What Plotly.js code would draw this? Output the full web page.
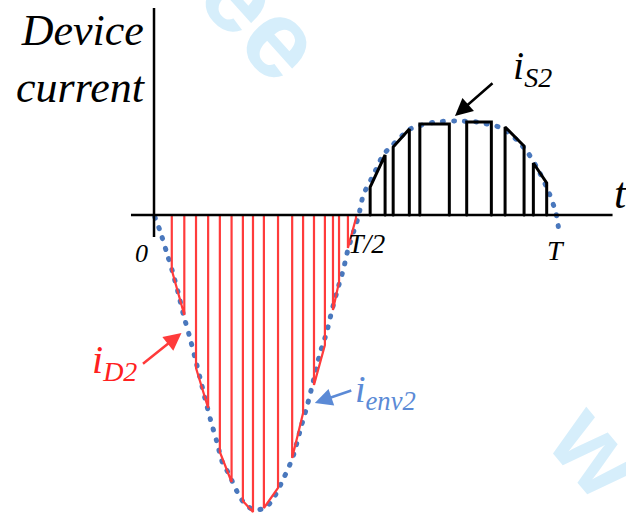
<!DOCTYPE html>
<html>
<head>
<meta charset="utf-8">
<script src="https://cdn.plot.ly/plotly-3.0.1.min.js"></script>
<style>
  html, body { margin: 0; padding: 0; background: #fff; }
  #chart { width: 626px; height: 515px; }
  /* round caps turn the dash pattern into round dots */
  .js-line { stroke-linecap: round; }
</style>
</head>
<body>
<div id="chart"></div>
<script>
// time in units of T, current in arbitrary units

// envelope i_env2 (dotted)
const envT = [0.002, 0.015, 0.031, 0.046, 0.060, 0.073, 0.087, 0.101, 0.114, 0.126, 0.140, 0.155, 0.169,
              0.184, 0.206, 0.221, 0.246, 0.275, 0.295, 0.320, 0.343, 0.364, 0.379, 0.392, 0.411, 0.427,
              0.440, 0.454, 0.469, 0.481, 0.498, 0.507, 0.518, 0.543, 0.567, 0.588, 0.634, 0.696, 0.745,
              0.799, 0.861, 0.898, 0.926, 0.955, 0.978, 0.995, 1.002];
const envI = [-0.02, -0.16, -0.37, -0.57, -0.78, -1.00, -1.20, -1.42, -1.63, -1.83, -2.05, -2.26, -2.47,
              -2.58, -2.77, -2.87, -2.95, -2.93, -2.84, -2.64, -2.43, -2.12, -1.91, -1.70, -1.38, -1.18,
              -0.96, -0.75, -0.54, -0.33, -0.12, 0.00, 0.20, 0.40, 0.60, 0.69, 0.86, 0.93, 0.94,
              0.93, 0.87, 0.75, 0.62, 0.42, 0.22, 0.02, -0.15];

// diode current i_D2 pulses (negative half)
const d2Start = [0.044, 0.104, 0.163, 0.220, 0.272, 0.342, 0.396, 0.443, 0.480];
const d2End   = [0.075, 0.134, 0.192, 0.245, 0.307, 0.369, 0.423, 0.458, 0.500];
const d2IStart = [-0.55, -1.53, -2.37, -2.86, -2.93, -2.43, -1.70, -0.95, -0.33];
const d2IEnd   = [-1.00, -1.93, -2.67, -2.97, -2.73, -1.98, -1.30, -0.67, -0.03];

// switch current i_S2 pulses (positive half)
const s2Start = [0.535, 0.592, 0.658, 0.774, 0.869, 0.939];
const s2End   = [0.572, 0.632, 0.731, 0.835, 0.916, 0.972];
const s2IStart = [0.28, 0.68, 0.91, 0.93, 0.88, 0.52];
const s2IEnd   = [0.60, 0.86, 0.91, 0.93, 0.69, 0.32];

function pulses(ts, te, is, ie) {
    const x = [], y = [];
    for (let k = 0; k < ts.length; k++) {
        x.push(ts[k], ts[k], te[k], te[k], null);
        y.push(0, is[k], ie[k], 0, null);
    }
    return { x: x, y: y };
}

const red = pulses(d2Start, d2End, d2IStart, d2IEnd);
const blk = pulses(s2Start, s2End, s2IStart, s2IEnd);

const traceD2 = {
    x: red.x, y: red.y, mode: 'lines', type: 'scatter',
    line: { color: '#ff3b3b', width: 2.2 }, connectgaps: false
};
const traceS2 = {
    x: blk.x, y: blk.y, mode: 'lines', type: 'scatter',
    line: { color: '#000000', width: 3 }, connectgaps: false
};
const traceEnv = {
    x: envT, y: envI, mode: 'lines', type: 'scatter',
    line: { color: '#4a78bd', width: 5, dash: '1px,10px', shape: 'spline', smoothing: 0.6 }
};

const serif = 'Liberation Serif, Times New Roman, serif';
const wm = '#d6eefb';

const layout = {
    width: 626, height: 515,
    margin: { l: 0, r: 0, t: 0, b: 0 },
    paper_bgcolor: '#ffffff', plot_bgcolor: '#ffffff',
    showlegend: false,
    xaxis: { range: [-0.3812, 1.1683], visible: false, fixedrange: true },
    yaxis: { range: [-3.0, 2.15], visible: false, fixedrange: true },
    shapes: [
        { type: 'line', xref: 'x', yref: 'y', x0: 0, x1: 0, y0: -0.22, y1: 2.07, line: { color: '#000', width: 2.5 } },
        { type: 'line', xref: 'x', yref: 'y', x0: -0.057, x1: 1.135, y0: 0, y1: 0, line: { color: '#000', width: 2.5 } }
    ],
    annotations: [
        // watermark fragments
        { text: '<b>ee</b>', x: 0.27, y: 1.98, xref: 'x', yref: 'y', showarrow: false, textangle: 48,
          font: { family: 'Liberation Sans, Arial, sans-serif', size: 110, color: wm } },
        { text: '<b>w</b>', x: 1.10, y: -2.35, xref: 'x', yref: 'y', showarrow: false, textangle: 50,
          font: { family: 'Liberation Sans, Arial, sans-serif', size: 105, color: wm } },

        { text: 'Device<br>current', x: -0.016, y: 1.56, xref: 'x', yref: 'y', xanchor: 'right', align: 'right',
          showarrow: false, font: { family: serif, size: 44, style: 'italic', color: '#000' } },
        { text: 't', x: 1.134, y: 0.22, xref: 'x', yref: 'y', xanchor: 'left', showarrow: false,
          font: { family: serif, size: 44, style: 'italic', color: '#000' } },
        { text: '0', x: -0.032, y: -0.38, xref: 'x', yref: 'y', showarrow: false,
          font: { family: serif, size: 26, style: 'italic', color: '#000' } },
        { text: 'T/2', x: 0.525, y: -0.28, xref: 'x', yref: 'y', showarrow: false,
          font: { family: serif, size: 28, style: 'italic', color: '#000' } },
        { text: 'T', x: 0.995, y: -0.35, xref: 'x', yref: 'y', showarrow: false,
          font: { family: serif, size: 28, style: 'italic', color: '#000' } },

        { text: 'i<sub>S2</sub>', x: 0.936, y: 1.47, xref: 'x', yref: 'y', showarrow: false,
          font: { family: serif, size: 40, style: 'italic', color: '#000' } },
        { text: 'i<sub>D2</sub>', x: -0.099, y: -1.47, xref: 'x', yref: 'y', showarrow: false,
          font: { family: serif, size: 40, style: 'italic', color: '#ff2020' } },
        { text: 'i<sub>env2</sub>', x: 0.574, y: -1.77, xref: 'x', yref: 'y', showarrow: false,
          font: { family: serif, size: 38, style: 'italic', color: '#5b8ad6' } },

        // arrows
        { text: '', x: 0.745, y: 0.99, xref: 'x', yref: 'y', ax: 39, ay: -34, showarrow: true,
          arrowhead: 2, arrowsize: 1.4, arrowwidth: 2.5, arrowcolor: '#000', standoff: 0 },
        { text: '', x: 0.068, y: -1.18, xref: 'x', yref: 'y', ax: -40, ay: 32, showarrow: true,
          arrowhead: 2, arrowsize: 1.4, arrowwidth: 2.5, arrowcolor: '#ff3b3b', standoff: 0 },
        { text: '', x: 0.398, y: -1.88, xref: 'x', yref: 'y', ax: 38, ay: -13, showarrow: true,
          arrowhead: 2, arrowsize: 1.4, arrowwidth: 2.5, arrowcolor: '#5b8ad6', standoff: 0 }
    ]
};

Plotly.newPlot('chart', [traceEnv, traceD2, traceS2], layout, { staticPlot: true, displayModeBar: false });
</script>
</body>
</html>
